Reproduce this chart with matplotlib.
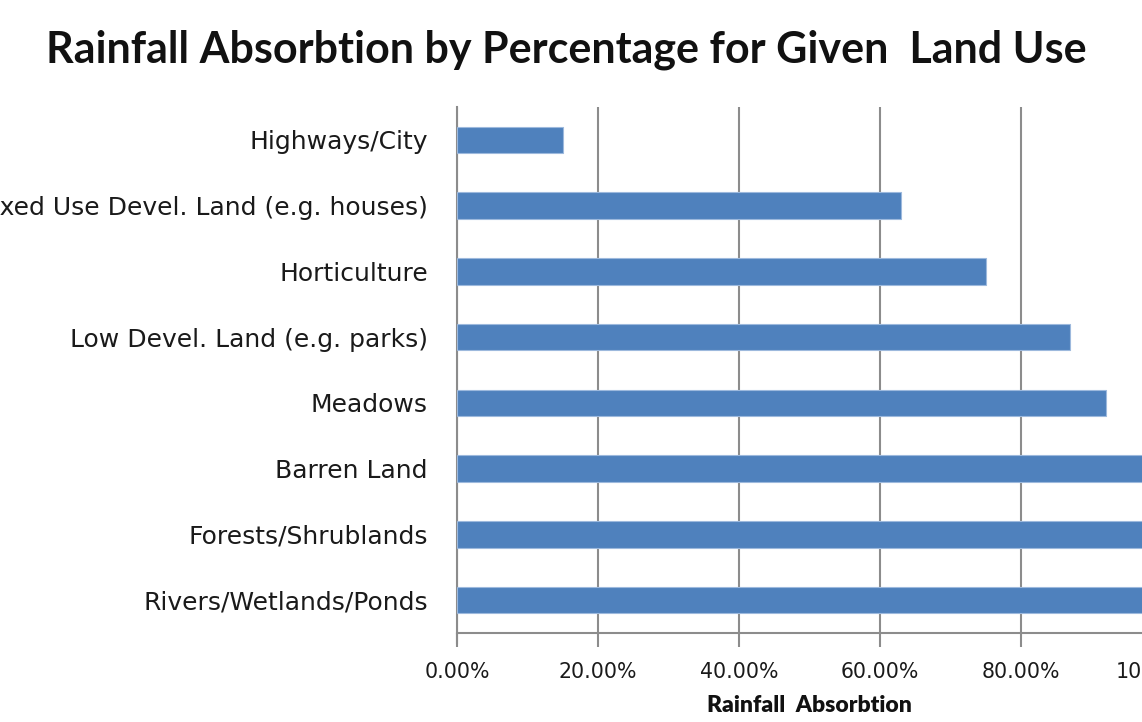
import matplotlib
matplotlib.use("Agg")
import matplotlib.pyplot as plt
from matplotlib.ticker import PercentFormatter

categories = ["Highways/City", "Mixed Use Devel. Land (e.g. houses)", "Horticulture",
              "Low Devel. Land (e.g. parks)", "Meadows", "Barren Land",
              "Forests/Shrublands", "Rivers/Wetlands/Ponds"]
values = [0.15, 0.63, 0.75, 0.87, 0.92, 1.00, 1.00, 1.00]
xticks = [0.0, 0.2, 0.4, 0.6, 0.8, 1.0]

W, H = 1142, 722
fig = plt.figure(figsize=(W / 100, H / 100), dpi=100)
x0, x1 = 457, 1162
y0, y1 = 107, 633
ax = fig.add_axes([x0 / W, 1 - y1 / H, (x1 - x0) / W, (y1 - y0) / H])

pos = list(range(len(categories)))
ax.barh(pos, values, height=0.4, color="#4F81BD", edgecolor="#9DB9DD", linewidth=0.8, zorder=3)
ax.set_ylim(len(categories) - 0.5, -0.5)
ax.set_xlim(0, 1.0)
ax.set_yticks(pos)
ax.set_yticklabels(categories, fontsize=18, color="#1a1a1a", fontfamily="DejaVu Sans")
ax.tick_params(axis="y", length=0, pad=21)

ax.set_xticks(xticks)
ax.xaxis.set_major_formatter(PercentFormatter(1.0, decimals=2))
ax.tick_params(axis="x", length=10, width=1.5, color="#8c8c8c", labelsize=14.8, pad=11,
               labelcolor="#1a1a1a")
for lab in ax.get_xticklabels():
    lab.set_fontfamily("DejaVu Sans")
ax.grid(axis="x", color="#8c8c8c", linewidth=1.5, zorder=0)
ax.set_axisbelow(True)

for s in ["top", "right"]:
    ax.spines[s].set_visible(False)
ax.spines["left"].set_color("#8c8c8c")
ax.spines["left"].set_linewidth(1.5)
ax.spines["left"].set_bounds(len(categories) - 0.5 + 0.15, -0.5)
ax.spines["bottom"].set_color("#8c8c8c")
ax.spines["bottom"].set_linewidth(1.5)

ax.set_xlabel("Rainfall  Absorbtion", fontsize=16.5, fontweight="heavy", fontfamily="Lato",
              labelpad=9, color="#111111")

fig.text(566 / W, 1 - 50 / H, "Rainfall Absorbtion by Percentage for Given  Land Use",
         ha="center", va="center", fontsize=31, fontweight="bold", fontfamily="Lato",
         color="#111111")

fig.savefig("out.png", dpi=100)
